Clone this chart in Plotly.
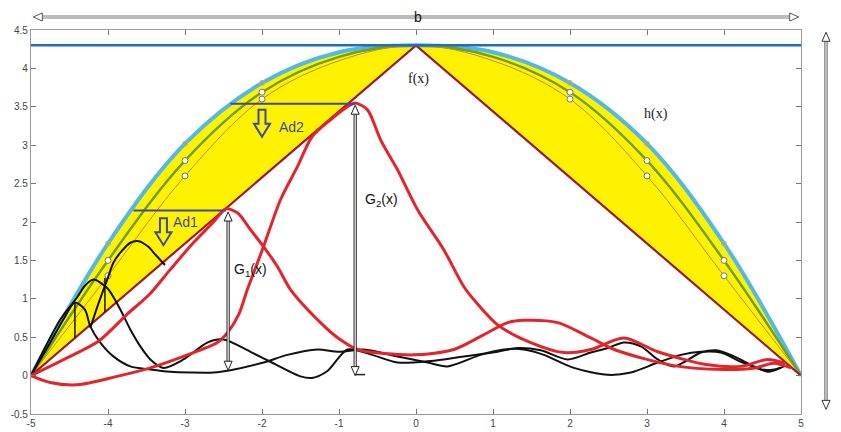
import plotly.graph_objects as go

# ---------------- data ----------------
# triangle f(x)
F_X = [-5, 0, 5]
F_Y = [0, 4.3, 0]
TOP_LEVEL = 4.3

# three estimates of h(x) sampled at integer x
H_X = [-5, -4, -3, -2, -1, 0, 1, 2, 3, 4, 5]
H_OUTER = [0, 1.72, 3.02, 3.81, 4.21, 4.3, 4.21, 3.81, 3.02, 1.72, 0]
H_MID = [0, 1.50, 2.80, 3.69, 4.15, 4.3, 4.15, 3.69, 2.80, 1.50, 0]
H_INNER = [0, 1.30, 2.60, 3.60, 4.10, 4.3, 4.10, 3.60, 2.60, 1.30, 0]
MARK_X = [-4, -3, -2, 2, 3, 4]
MARK_OUTER = [1.72, 3.02, 3.81, 3.81, 3.02, 1.72]
MARK_MID = [1.50, 2.80, 3.69, 3.69, 2.80, 1.50]
MARK_INNER = [1.30, 2.60, 3.60, 3.60, 2.60, 1.30]

# G1(x)
G1_X = [-5, -4.55, -4.12, -3.75, -3.45, -3.2, -2.9, -2.63, -2.47, -2.32, -2.15,
        -1.98, -1.8, -1.63, -1.24, -1.0, -0.76, -0.03, 0.49, 0.84, 1.19, 1.4,
        1.84, 2.27, 2.6, 3.35, 4.0, 4.4, 4.65, 4.87]
G1_Y = [0, 0.22, 0.45, 0.8, 1.07, 1.37, 1.72, 2.0, 2.17, 2.12, 1.9,
        1.68, 1.42, 1.12, 0.69, 0.48, 0.34, 0.27, 0.34, 0.51, 0.69, 0.72,
        0.69, 0.49, 0.33, 0.13, 0.08, 0.1, 0.16, 0.1]

# G2(x)
G2_X = [-5, -4.75, -4.4, -3.88, -3.45, -3.02, -2.58, -2.44, -2.3, -2.19, -1.98,
        -1.76, -1.54, -1.35, -1.11, -0.89, -0.79, -0.63, -0.46, -0.24, 0.02, 0.36,
        0.62, 0.75, 1.06, 1.49, 1.92, 2.27, 2.7, 3.14, 3.79, 4.22, 4.57, 4.8]
G2_Y = [0, -0.09, -0.12, -0.01, 0.1, 0.25, 0.43, 0.57, 0.8, 1.12, 1.68,
        2.29, 2.72, 3.11, 3.33, 3.5, 3.55, 3.46, 3.07, 2.68, 2.16, 1.64,
        1.16, 0.99, 0.66, 0.43, 0.3, 0.34, 0.49, 0.31, 0.14, 0.12, 0.21, 0.16]

# black wave packets
K1_X = [-5, -4.75, -4.58, -4.43, -4.3, -4.23, -4.1, -3.93, -3.71, -3.45, -3.19,
        -2.93, -2.63, -2.41, -1.98, -1.67, -1.28, -1.0, -0.68, -0.24, 0.15, 0.41,
        0.84, 1.14, 1.4, 1.66, 2.05, 2.49, 2.79, 3.14, 3.44, 3.7, 3.96, 4.22,
        4.48, 4.65, 4.78]
K1_Y = [0, 0.43, 0.73, 0.95, 0.86, 0.64, 0.43, 0.25, 0.12, 0.08, 0.05,
        0.04, 0.04, 0.07, 0.17, 0.27, 0.34, 0.31, 0.34, 0.25, 0.17, 0.12,
        0.27, 0.34, 0.34, 0.27, 0.1, 0.01, 0.04, 0.17, 0.27, 0.31, 0.3, 0.18,
        0.08, 0.08, 0.12]
K2_X = [-5, -4.62, -4.4, -4.3, -4.19, -4.01, -3.84, -3.71, -3.58, -3.45, -3.28,
        -3.02, -2.71, -2.5, -2.15, -1.93, -1.5, -1.35, -1.15, -0.89, -0.6, -0.24,
        0.19, 0.62, 1.06, 1.32, 1.62, 1.97, 2.27, 2.49, 2.7, 2.92, 3.14, 3.35,
        3.7, 3.9, 4.13, 4.39, 4.57, 4.74]
K2_Y = [0, 0.73, 1.02, 1.17, 1.25, 1.14, 0.86, 0.6, 0.38, 0.21, 0.1,
        0.21, 0.43, 0.47, 0.31, 0.2, -0.01, -0.03, 0.06, 0.34, 0.28, 0.17,
        0.19, 0.25, 0.31, 0.36, 0.33, 0.21, 0.3, 0.36, 0.43, 0.38, 0.21, 0.12,
        0.3, 0.33, 0.25, 0.12, 0.05, 0.1]
K3_X = [-4.23, -4.12, -4.01, -3.93, -3.84, -3.71, -3.6, -3.48, -3.38, -3.26]
K3_Y = [0.62, 0.95, 1.25, 1.47, 1.6, 1.73, 1.75, 1.68, 1.57, 1.44]

# packet peaks dropped onto f(x)
DROP_X = [-4.43, -4.04]
DROP_TOP = [0.95, 1.27]

# horizontal levels Ad1 / Ad2
AD_Y = [2.15, 3.54]
AD_X0 = [-3.67, -2.41]
AD_X1 = [-2.47, -0.79]
AD_NAMES = ["Ad1", "Ad2"]

# G1 / G2 height markers
G_ARROW_X = [-2.44, -0.79]
G_ARROW_TOP = [2.13, 3.52]
G_ARROW_BOT = [0.07, 0.0]


def f_tri(x):
    return TOP_LEVEL * (1 - abs(x) / 5)


# ---------------- styling ----------------
YELLOW = "#fff200"
SKY = "#52b8e6"
GREEN = "#6f9e2a"
THIN = "#c9853a"
TRI = "#9a1b2a"
RED = "#e3242b"
BLACK = "#111111"
NAVY = "#3c4aa8"
LEVEL_BLUE = "#1f6fb2"

# plot area: 770 x 384 px
PPX = 770 / 10.0
PPY = 384 / 5.0

fig = go.Figure()

# yellow band between f(x) and the outer h(x)
fig.add_trace(go.Scatter(x=F_X, y=F_Y, mode="lines", line=dict(color=TRI, width=0),
                         showlegend=False, hoverinfo="skip"))
fig.add_trace(go.Scatter(x=H_X, y=H_OUTER, mode="lines", fill="tonexty",
                         fillcolor=YELLOW, line=dict(color=SKY, width=4, shape="spline"),
                         showlegend=False))
fig.add_trace(go.Scatter(x=H_X, y=H_MID, mode="lines",
                         line=dict(color=GREEN, width=2.5, shape="spline"), showlegend=False))
fig.add_trace(go.Scatter(x=H_X, y=H_INNER, mode="lines",
                         line=dict(color=THIN, width=1, shape="spline"), showlegend=False))
fig.add_trace(go.Scatter(x=MARK_X, y=MARK_OUTER, mode="markers",
                         marker=dict(symbol="circle-open", size=5, color="#e0a850", line=dict(width=1)),
                         showlegend=False))
for ys in (MARK_MID, MARK_INNER):
    fig.add_trace(go.Scatter(x=MARK_X, y=ys, mode="markers",
                             marker=dict(symbol="circle", size=6, color="white",
                                         line=dict(color="#777", width=1)),
                             showlegend=False))

# triangle f(x)
fig.add_trace(go.Scatter(x=F_X, y=F_Y, mode="lines", line=dict(color=TRI, width=2.2),
                         showlegend=False))

# level h = 4.3
fig.add_trace(go.Scatter(x=[-5, 5], y=[TOP_LEVEL, TOP_LEVEL], mode="lines",
                         line=dict(color=LEVEL_BLUE, width=2.5), showlegend=False))

# black packets
for xs, ys in ((K1_X, K1_Y), (K2_X, K2_Y), (K3_X, K3_Y)):
    fig.add_trace(go.Scatter(x=xs, y=ys, mode="lines",
                             line=dict(color=BLACK, width=2, shape="spline", smoothing=0.8),
                             showlegend=False))
for xd, yt in zip(DROP_X, DROP_TOP):
    fig.add_trace(go.Scatter(x=[xd, xd], y=[yt, f_tri(xd)], mode="lines",
                             line=dict(color=BLACK, width=1.5), showlegend=False))

# red G curves
for xs, ys in ((G1_X, G1_Y), (G2_X, G2_Y)):
    fig.add_trace(go.Scatter(x=xs, y=ys, mode="lines",
                             line=dict(color=RED, width=3, shape="spline", smoothing=0.8),
                             showlegend=False))

# Ad level lines
for y0, x0, x1 in zip(AD_Y, AD_X0, AD_X1):
    fig.add_trace(go.Scatter(x=[x0, x1], y=[y0, y0], mode="lines",
                             line=dict(color=NAVY, width=2), showlegend=False))

shapes = []


def path_of(points):
    return "M " + " L ".join(f"{px:.4f},{py:.4f}" for px, py in points) + " Z"


def head(x, y, direction, sx, sy, xref="x", yref="y", color="#222", length=9, half=4):
    if direction == "up":
        pts = [(x - half * sx, y - length * sy), (x, y), (x + half * sx, y - length * sy)]
    elif direction == "down":
        pts = [(x - half * sx, y + length * sy), (x, y), (x + half * sx, y + length * sy)]
    elif direction == "left":
        pts = [(x + length * sx, y - half * sy), (x, y), (x + length * sx, y + half * sy)]
    else:
        pts = [(x - length * sx, y - half * sy), (x, y), (x - length * sx, y + half * sy)]
    return dict(type="path", path=path_of(pts), xref=xref, yref=yref,
                line=dict(color=color, width=1), fillcolor="white", layer="above")


def shaft(x0, y0, x1, y1, xref="x", yref="y", color="#222"):
    return [dict(type="line", x0=x0, y0=y0, x1=x1, y1=y1, xref=xref, yref=yref,
                 line=dict(color=color, width=3.2), layer="above"),
            dict(type="line", x0=x0, y0=y0, x1=x1, y1=y1, xref=xref, yref=yref,
                 line=dict(color="white", width=1.2), layer="above")]


# G1 / G2 double-ended height arrows
for xg, yt, yb in zip(G_ARROW_X, G_ARROW_TOP, G_ARROW_BOT):
    shapes += shaft(xg, yb + 8 / PPY, xg, yt - 8 / PPY)
    shapes.append(head(xg, yt, "up", 1 / PPX, 1 / PPY))
    shapes.append(head(xg, yb, "down", 1 / PPX, 1 / PPY))
# small foot under G2
shapes.append(dict(type="line", x0=G_ARROW_X[1], x1=G_ARROW_X[1] + 10 / PPX,
                   y0=G_ARROW_BOT[1] + 1 / PPY, y1=G_ARROW_BOT[1] + 1 / PPY,
                   xref="x", yref="y", line=dict(color="#222", width=1.5), layer="above"))

# hollow block arrows for Ad1 / Ad2
AD_ARROW_X = [-3.28, -2.0]
AD_ARROW_TOP = [2.05, 3.46]
for cx, top in zip(AD_ARROW_X, AD_ARROW_TOP):
    rel = [(-3.5, 0), (3.5, 0), (3.5, -14), (8, -14), (0, -27), (-8, -14), (-3.5, -14)]
    pts = [(cx + a / PPX, top + b / PPY) for a, b in rel]
    shapes.append(dict(type="path", path=path_of(pts), xref="x", yref="y",
                       line=dict(color=NAVY, width=2), fillcolor="rgba(0,0,0,0)", layer="above"))

# width arrow "b" above the plot (paper y)
PAPER_PER_PX = 1 / 384.0
b_y = (414 - 17) / 384.0
shapes += shaft(-4.97 + 9 / PPX, b_y, 4.97 - 9 / PPX, b_y, yref="paper", color="#777")
shapes.append(head(-4.97, b_y, "left", 1 / PPX, PAPER_PER_PX, yref="paper", color="#555"))
shapes.append(head(4.97, b_y, "right", 1 / PPX, PAPER_PER_PX, yref="paper", color="#555"))

# height arrow at the right (paper x)
h_x = (826 - 31) / 770.0
PAPER_X_PER_PX = 1 / 770.0
h_top, h_bot = 4.47, -0.44
shapes += shaft(h_x, h_bot + 9 / PPY, h_x, h_top - 9 / PPY, xref="paper", color="#555")
shapes.append(head(h_x, h_top, "up", PAPER_X_PER_PX, 1 / PPY, xref="paper", color="#333"))
shapes.append(head(h_x, h_bot, "down", PAPER_X_PER_PX, 1 / PPY, xref="paper", color="#333"))

annotations = [
    dict(x=0.03, y=3.86, text="f(x)", showarrow=False,
         font=dict(family="Liberation Serif", size=14, color="#222")),
    dict(x=3.12, y=3.4, text="h(x)", showarrow=False,
         font=dict(family="Liberation Serif", size=14, color="#222")),
    dict(x=0.03, y=(414 - 7) / 384.0, yref="paper", text="b", showarrow=False,
         font=dict(family="Liberation Sans", size=14, color="#111")),
    dict(x=-3.0, y=2.0, text=AD_NAMES[0], showarrow=False,
         font=dict(family="Liberation Sans", size=14, color=NAVY)),
    dict(x=-1.62, y=3.24, text=AD_NAMES[1], showarrow=False,
         font=dict(family="Liberation Sans", size=14, color=NAVY)),
    dict(x=-2.15, y=1.38, text="G<sub>1</sub>(x)", showarrow=False,
         font=dict(family="Liberation Sans", size=14, color="#111")),
    dict(x=-0.45, y=2.29, text="G<sub>2</sub>(x)", showarrow=False,
         font=dict(family="Liberation Sans", size=14, color="#111")),
]

axis_common = dict(showgrid=False, zeroline=False, showline=True, linecolor="#9a9a9a",
                   linewidth=1.2, mirror="ticks", ticks="inside", ticklen=5,
                   tickcolor="#777", automargin=False,
                   tickfont=dict(family="Liberation Sans", size=10, color="#444"))

fig.update_layout(
    width=841, height=432,
    margin=dict(l=31, r=40, t=30, b=18),
    paper_bgcolor="white", plot_bgcolor="white",
    showlegend=False,
    xaxis=dict(range=[-5, 5], tickmode="array", tickvals=list(range(-5, 6)),
               ticktext=[str(v) for v in range(-5, 6)], **axis_common),
    yaxis=dict(range=[-0.5, 4.5], tickmode="array",
               tickvals=[-0.5, 0, 0.5, 1, 1.5, 2, 2.5, 3, 3.5, 4, 4.5],
               ticktext=["-0.5", "0", "0.5", "1", "1.5", "2", "2.5", "3", "3.5", "4", "4.5"],
               **axis_common),
    shapes=shapes,
    annotations=annotations,
)

fig.write_html("out.html")
